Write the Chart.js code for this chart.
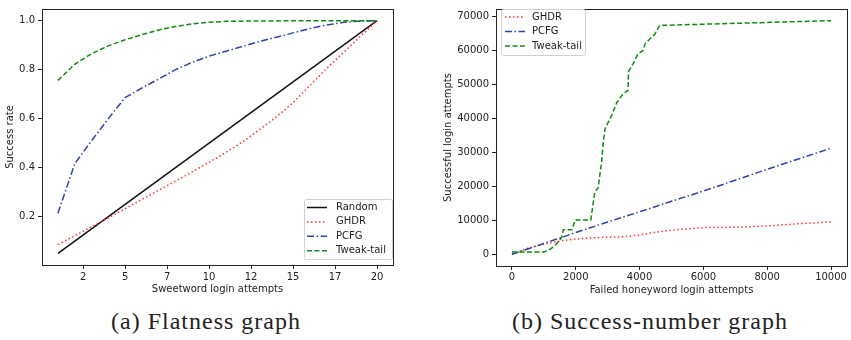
<!DOCTYPE html>
<html>
<head>
<meta charset="utf-8">
<script src="https://cdn.jsdelivr.net/npm/chart.js@4.4.1/dist/chart.umd.min.js"></script>
<style>
  body { margin: 0; background: #fff; width: 851px; height: 340px; position: relative; overflow: hidden; }
  canvas { position: absolute; top: 0; }
  #flatness { left: 0; }
  #success { left: 420px; }
  .caption {
    position: absolute; top: 308px; width: 400px; text-align: center;
    font-family: 'Liberation Serif', serif; font-size: 24px; letter-spacing: 1px; color: #222; line-height: 26px;
  }
</style>
</head>
<body>
<canvas id="flatness" width="400" height="300"></canvas>
<canvas id="success" width="431" height="300"></canvas>
<div class="caption" style="left:6px">(a) Flatness graph</div>
<div class="caption" style="left:450px">(b) Success-number graph</div>
<script>
// (a) flatness graph data
const sweetAttempts = [1, 2, 3, 4, 5, 6, 7, 8, 9, 10, 11, 12, 13, 14, 15, 16, 17, 18, 19, 20];
const randomRate = [0.05, 0.10, 0.15, 0.20, 0.25, 0.30, 0.35, 0.40, 0.45, 0.50, 0.55, 0.60, 0.65, 0.70, 0.75, 0.80, 0.85, 0.90, 0.95, 1.0];
const ghdrRate = [0.086, 0.122, 0.158, 0.195, 0.232, 0.27, 0.308, 0.345, 0.383, 0.422, 0.462, 0.505, 0.555, 0.607, 0.665, 0.735, 0.805, 0.87, 0.935, 1.0];
const pcfgRate = [0.214, 0.416, 0.51, 0.60, 0.686, 0.725, 0.762, 0.80, 0.83, 0.855, 0.875, 0.895, 0.915, 0.932, 0.95, 0.968, 0.982, 0.993, 0.998, 1.0];
const tweakRate = [0.756, 0.822, 0.865, 0.897, 0.922, 0.943, 0.962, 0.976, 0.987, 0.993, 0.997, 0.998, 0.999, 0.999, 1.0, 1.0, 1.0, 1.0, 1.0, 1.0];
const sweetTickValues = [2.5, 5, 7.5, 10, 12.5, 15, 17.5, 20];
const sweetTickLabels = ['2', '5', '7', '10', '12', '15', '17', '20'];
const rateTickValues = [0.2, 0.4, 0.6, 0.8, 1.0];
const rateTickLabels = ['0.2', '0.4', '0.6', '0.8', '1.0'];

// (b) success-number graph data
const ghdrFailed = [0, 500, 1000, 1500, 2000, 2500, 3000, 3500, 4000, 4500, 5000, 6000, 7000, 8000, 9000, 10000];
const ghdrSuccess = [0, 1800, 3000, 3900, 4500, 4850, 5050, 5150, 5700, 6500, 7100, 7850, 7950, 8350, 9000, 9550];
const pcfgFailed = [0, 1000, 2000, 3000, 4000, 5000, 6000, 7000, 8000, 9000, 10000];
const pcfgSuccess = [0, 3200, 6400, 9500, 12500, 15600, 18600, 21800, 25000, 28100, 31200];
const tweakFailed = [0, 1000, 1150, 1300, 1450, 1560, 1610, 1880, 1980, 2470, 2600, 2700, 2810, 2860, 2920, 3120, 3280, 3490, 3640, 3650, 3800, 3950, 4110, 4170, 4320, 4480, 4630, 10000];
const tweakSuccess = [700, 700, 1200, 2200, 3600, 5000, 7200, 7200, 10100, 10100, 18500, 19500, 27200, 33000, 37000, 40700, 44500, 47300, 48200, 53700, 56100, 59000, 59900, 61900, 63300, 64800, 67300, 68700];
const failedTickValues = [0, 2000, 4000, 6000, 8000, 10000];
const successTickValues = [0, 10000, 20000, 30000, 40000, 50000, 60000, 70000];

Chart.defaults.font.family = "'DejaVu Sans', sans-serif";
Chart.defaults.font.size = 10;
Chart.defaults.color = '#222';

function pairs(xs, ys) {
    return xs.map((x, i) => ({ x: x, y: ys[i] }));
}

const styles = {
    random: { borderColor: '#111', borderWidth: 1.5, borderDash: [] },
    ghdr: { borderColor: '#ff3333', borderWidth: 1.5, borderDash: [1.5, 2.5] },
    pcfg: { borderColor: '#2f43ad', borderWidth: 1.5, borderDash: [7, 2.5, 1.5, 2.5] },
    tweak: { borderColor: '#118a11', borderWidth: 1.5, borderDash: [5, 2.5] }
};

function makeSet(label, data, style, order) {
    return Object.assign({ label, data, pointRadius: 0, fill: false, tension: 0, order }, style);
}

// box around the plot area, like matplotlib spines
const frame = {
    id: 'frame',
    afterDatasetsDraw(chart) {
        const { ctx, chartArea: a } = chart;
        ctx.save();
        ctx.strokeStyle = '#222';
        ctx.lineWidth = 1;
        ctx.strokeRect(Math.round(a.left) + 0.5, Math.round(a.top) + 0.5, Math.round(a.right - a.left), Math.round(a.bottom - a.top));
        ctx.restore();
    }
};

// legend drawn inside the plot
const boxLegend = {
    id: 'boxLegend',
    afterDraw(chart, args, opts) {
        const ctx = chart.ctx;
        ctx.save();
        ctx.fillStyle = 'rgba(255,255,255,0.85)';
        ctx.strokeStyle = '#d0d0d0';
        ctx.lineWidth = 1;
        ctx.beginPath();
        ctx.roundRect(opts.x + 0.5, opts.y + 0.5, opts.w, opts.h, 2);
        ctx.fill();
        ctx.stroke();
        ctx.font = "10px 'DejaVu Sans'";
        ctx.textBaseline = 'middle';
        chart.data.datasets.forEach((ds, i) => {
            const y = opts.rowY + i * opts.rowStep;
            ctx.strokeStyle = ds.borderColor;
            ctx.lineWidth = ds.borderWidth;
            ctx.setLineDash(ds.borderDash);
            ctx.beginPath();
            ctx.moveTo(opts.sampleX, y);
            ctx.lineTo(opts.sampleX + opts.sampleLen, y);
            ctx.stroke();
            ctx.setLineDash([]);
            ctx.fillStyle = '#222';
            ctx.fillText(ds.label, opts.textX, y);
        });
        ctx.restore();
    }
};

function fixedTicks(values) {
    return scale => { scale.ticks = values.map(v => ({ value: v })); };
}

const tickGrid = { display: true, drawOnChartArea: false, drawTicks: true, tickLength: 4, color: '#222' };

new Chart(document.getElementById('flatness'), {
    type: 'line',
    data: {
        datasets: [
            makeSet('Random', pairs(sweetAttempts, randomRate), styles.random, 4),
            makeSet('GHDR', pairs(sweetAttempts, ghdrRate), styles.ghdr, 3),
            makeSet('PCFG', pairs(sweetAttempts, pcfgRate), styles.pcfg, 2),
            makeSet('Tweak-tail', pairs(sweetAttempts, tweakRate), styles.tweak, 1)
        ]
    },
    options: {
        responsive: false,
        animation: false,
        layout: { padding: { top: 4, right: 7, left: 0, bottom: 0 } },
        plugins: {
            legend: { display: false },
            tooltip: { enabled: false },
            boxLegend: { x: 304, y: 199, w: 88, h: 60, rowY: 207.5, rowStep: 14.4, sampleX: 307, sampleLen: 20, textX: 336 }
        },
        scales: {
            x: {
                type: 'linear', min: 0.05, max: 20.95,
                afterBuildTicks: fixedTicks(sweetTickValues),
                afterFit: s => { s.height = 35; },
                grid: tickGrid,
                border: { display: false },
                ticks: { autoSkip: false, maxRotation: 0, padding: 2, callback: (v, i) => sweetTickLabels[i] },
                title: { display: true, text: 'Sweetword login attempts', padding: { top: 0, bottom: 5 } }
            },
            y: {
                type: 'linear', min: 0.0025, max: 1.0475,
                afterBuildTicks: fixedTicks(rateTickValues),
                afterFit: s => { s.width = 42; },
                grid: tickGrid,
                border: { display: false },
                ticks: { autoSkip: false, padding: 3, callback: (v, i) => rateTickLabels[i] },
                title: { display: true, text: 'Success rate', padding: { top: 4, bottom: 0 } }
            }
        }
    },
    plugins: [frame, boxLegend]
});

new Chart(document.getElementById('success'), {
    type: 'line',
    data: {
        datasets: [
            makeSet('GHDR', pairs(ghdrFailed, ghdrSuccess), styles.ghdr, 3),
            makeSet('PCFG', pairs(pcfgFailed, pcfgSuccess), styles.pcfg, 2),
            makeSet('Tweak-tail', pairs(tweakFailed, tweakSuccess), styles.tweak, 1)
        ]
    },
    options: {
        responsive: false,
        animation: false,
        layout: { padding: { top: 4, right: 4, left: 0, bottom: 0 } },
        plugins: {
            legend: { display: false },
            tooltip: { enabled: false },
            boxLegend: { x: 81, y: 9, w: 84, h: 46, rowY: 17, rowStep: 14.5, sampleX: 85, sampleLen: 20, textX: 112 }
        },
        scales: {
            x: {
                type: 'linear', min: -500, max: 10500,
                afterBuildTicks: fixedTicks(failedTickValues),
                afterFit: s => { s.height = 34; },
                grid: tickGrid,
                border: { display: false },
                ticks: { autoSkip: false, maxRotation: 0, padding: 1, callback: v => String(v) },
                title: { display: true, text: 'Failed honeyword login attempts', padding: { top: 0, bottom: 4 } }
            },
            y: {
                type: 'linear', min: -3435, max: 72135,
                afterBuildTicks: fixedTicks(successTickValues),
                afterFit: s => { s.width = 76; },
                grid: tickGrid,
                border: { display: false },
                ticks: { autoSkip: false, padding: 3, callback: v => String(v) },
                title: { display: true, text: 'Successful login attempts', padding: { top: 22, bottom: 0 } }
            }
        }
    },
    plugins: [frame, boxLegend]
});
</script>
</body>
</html>
